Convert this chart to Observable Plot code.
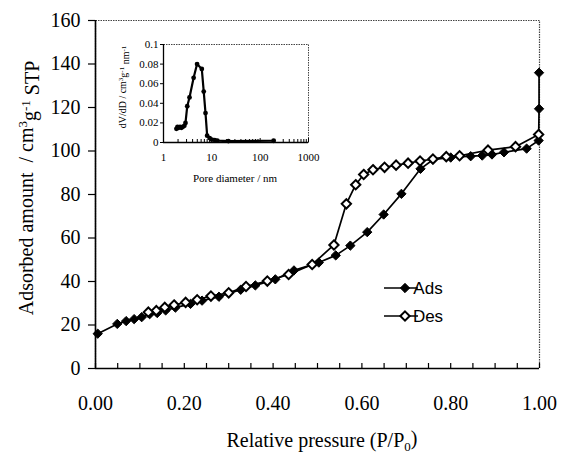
<!DOCTYPE html>
<html><head><meta charset="utf-8">
<script src="https://cdn.jsdelivr.net/npm/d3@7"></script>
<script src="https://cdn.jsdelivr.net/npm/@observablehq/plot@0.6"></script>
<style>
html,body{margin:0;padding:0;background:#fff;}
#wrap{position:relative;width:561px;height:454px;overflow:hidden;}
#wrap svg{position:absolute;}
</style></head><body><div id="wrap"></div>
<script>
// Adsorption branch (P/P0, cm3/g STP)
const adsX = [0.005,0.049,0.069,0.087,0.104,0.122,0.139,0.158,0.180,0.214,0.240,0.278,0.327,0.360,0.405,0.447,0.503,0.541,0.574,0.612,0.649,0.689,0.732,0.760,0.800,0.845,0.871,0.893,0.920,0.971,0.998,0.999,0.999];
const adsY = [16.0,20.5,21.8,22.7,23.6,25.0,25.5,26.7,28.0,29.7,31.2,33.0,36.2,38.2,41.0,45.1,48.7,52.0,56.5,62.7,70.8,80.3,91.8,96.0,97.0,97.6,97.9,98.4,99.4,101.1,104.8,119.4,136.0];
// Desorption branch
const desX = [0.998,0.946,0.884,0.820,0.790,0.760,0.731,0.704,0.677,0.651,0.625,0.604,0.586,0.565,0.537,0.488,0.435,0.387,0.339,0.300,0.260,0.229,0.203,0.177,0.156,0.137,0.119];
const desY = [107.6,102.0,100.4,97.8,97.4,96.3,95.4,94.4,93.5,92.5,91.4,89.2,84.5,75.7,56.8,47.8,43.2,40.2,37.7,34.8,33.3,31.6,30.4,29.2,28.1,26.6,25.9];
// Inset: pore size distribution
const poreD = [1.85,1.95,2.05,2.2,2.35,2.5,2.7,2.85,3.1,3.45,4.2,4.95,6.2,6.8,7.4,8.0,9.0,10,11.5,13,22,190];
const dVdD  = [0.014,0.016,0.015,0.016,0.015,0.016,0.017,0.020,0.037,0.046,0.066,0.080,0.075,0.052,0.030,0.007,0.0045,0.003,0.0025,0.002,0.0015,0.0018];

const xTicks = [0,0.2,0.4,0.6,0.8,1.0];
const xMinor = [0,0.05,0.1,0.15,0.2,0.25,0.3,0.35,0.4,0.45,0.5,0.55,0.6,0.65,0.7,0.75,0.8,0.85,0.9,0.95,1.0];
const yTicks = [0,20,40,60,80,100,120,140,160];
const insetXTicks = [1,10,100,1000];
const insetYTicks = [0,0.02,0.04,0.06,0.08,0.1];
const seriesNames = ["Ads","Des"];

const serif = "'Liberation Serif','Times New Roman',serif";
const sans = "'Liberation Sans',Arial,sans-serif";
const wrap = document.getElementById("wrap");

const ads = adsX.map((x,i)=>({x, y: adsY[i]}));
const des = desX.map((x,i)=>({x, y: desY[i]}));
const psd = poreD.map((d,i)=>({d, v: dVdD[i]}));

const main = Plot.plot({
  width: 561, height: 454,
  marginLeft: 95, marginRight: 22, marginTop: 20, marginBottom: 86,
  style: {fontFamily: serif, fontSize: "20px", color: "#000", background: "transparent", overflow: "visible"},
  x: {domain: [0,1], label: null},
  y: {domain: [0,160], label: null},
  marks: [
    Plot.frame({stroke: "#444", strokeWidth: 1.2, strokeDasharray: "1.5,1"}),
    Plot.axisX({ticks: xMinor, tickFormat: () => "", tickSize: -5, strokeWidth: 1.2}),
    Plot.axisX({ticks: xTicks, tickFormat: d => d.toFixed(2), tickSize: 0, tickPadding: 27}),
    Plot.axisY({ticks: yTicks, tickSize: 7, tickPadding: 8, strokeWidth: 1.2}),
    Plot.ruleX([0], {strokeWidth: 1.6}),
    Plot.ruleY([0], {strokeWidth: 1.6}),
    Plot.line(ads, {x: "x", y: "y", stroke: "#000", strokeWidth: 1.7}),
    Plot.line(des, {x: "x", y: "y", stroke: "#000", strokeWidth: 1.7}),
    Plot.dot(ads, {x: "x", y: "y", symbol: "diamond2", r: 4.2, fill: "#000", stroke: "#000", strokeWidth: 1}),
    Plot.dot(des, {x: "x", y: "y", symbol: "diamond2", r: 4.2, fill: "#fff", stroke: "#000", strokeWidth: 2})
  ]
});
main.style.left = "0px"; main.style.top = "0px";
wrap.appendChild(main);

const msvg = d3.select(main);
// y title
const yt = msvg.append("text")
  .attr("transform", "translate(33,188) rotate(-90)")
  .attr("text-anchor", "middle")
  .style("font-family", serif).style("font-size", "20px").attr("fill", "#000");
yt.append("tspan").text("Adsorbed amount\u00a0\u00a0/ cm");
yt.append("tspan").attr("dy", "-0.45em").attr("font-size", "13px").text("3");
yt.append("tspan").attr("dy", "0.45em").text("g");
yt.append("tspan").attr("dy", "-0.45em").attr("font-size", "13px").text("-1");
yt.append("tspan").attr("dy", "0.45em").text(" STP");
// x title
const xt = msvg.append("text")
  .attr("x", 322).attr("y", 447)
  .attr("text-anchor", "middle")
  .style("font-family", serif).style("font-size", "20px").attr("fill", "#000");
xt.append("tspan").text("Relative pressure (P/P");
xt.append("tspan").attr("dy", "0.3em").attr("font-size", "13px").text("0");
xt.append("tspan").attr("dy", "-0.3em").text(")");

// legend
const leg = msvg.append("g").attr("transform", "translate(384,288)");
seriesNames.forEach((name, i) => {
  const g = leg.append("g").attr("transform", `translate(0,${i*28})`);
  g.append("line").attr("x1", 0).attr("x2", 34).attr("y1", 0).attr("y2", 0).attr("stroke", "#000").attr("stroke-width", 1.7);
  g.append("path").attr("d", d3.symbol(d3.symbolDiamond2, 4.2*4.2*Math.PI)()).attr("transform", "translate(21,0)")
    .attr("fill", i === 0 ? "#000" : "#fff").attr("stroke", "#000").attr("stroke-width", i === 0 ? 1 : 2);
  g.append("text").attr("x", 44).attr("y", 0).attr("dy", "0.36em").style("font-family", sans).style("font-size", "17px").attr("fill", "#000").text(name);
});

// inset minor ticks (log)
const insetMinor = [];
[1,10,100].forEach(b => { for (let k = 2; k <= 9; k++) insetMinor.push(b*k); });

const inset = Plot.plot({
  width: 220, height: 155,
  marginLeft: 63, marginRight: 12, marginTop: 14, marginBottom: 43,
  style: {fontFamily: serif, fontSize: "11px", color: "#000", background: "transparent", overflow: "visible"},
  x: {type: "log", domain: [1,1000], label: null},
  y: {domain: [0,0.1], label: null},
  marks: [
    Plot.frame({stroke: "#444", strokeWidth: 1, strokeDasharray: "1.5,1"}),
    Plot.axisX({ticks: insetMinor, tickFormat: () => "", tickSize: -3}),
    Plot.axisX({ticks: insetXTicks, tickFormat: d => String(d), tickSize: -4, tickPadding: 15}),
    Plot.axisY({ticks: insetYTicks, tickFormat: d => String(d), tickSize: 3, tickPadding: 2}),
    Plot.ruleX([1], {strokeWidth: 1.3}),
    Plot.ruleY([0], {strokeWidth: 1.3}),
    Plot.line(psd, {x: "d", y: "v", stroke: "#000", strokeWidth: 2.2}),
    Plot.dot(psd, {x: "d", y: "v", r: 2.4, fill: "#000"})
  ]
});
inset.style.left = "100px"; inset.style.top = "30px";
wrap.appendChild(inset);
const isvg = d3.select(inset);
isvg.append("text").attr("x", 135).attr("y", 148).attr("dy", "0.35em").attr("text-anchor", "middle")
  .style("font-family", serif).style("font-size", "11px").attr("fill", "#000").text("Pore diameter / nm");
const iyt = isvg.append("text").attr("transform", "translate(26,57) rotate(-90)").attr("text-anchor", "middle")
  .style("font-family", serif).style("font-size", "10px").attr("fill", "#000");
iyt.append("tspan").text("dV/dD / cm");
iyt.append("tspan").attr("dy", "-0.45em").attr("font-size", "7px").text("3");
iyt.append("tspan").attr("dy", "0.45em").text("g");
iyt.append("tspan").attr("dy", "-0.45em").attr("font-size", "7px").text("-1");
iyt.append("tspan").attr("dy", "0.45em").text(" nm");
iyt.append("tspan").attr("dy", "-0.45em").attr("font-size", "7px").text("-1");
</script></body></html>
